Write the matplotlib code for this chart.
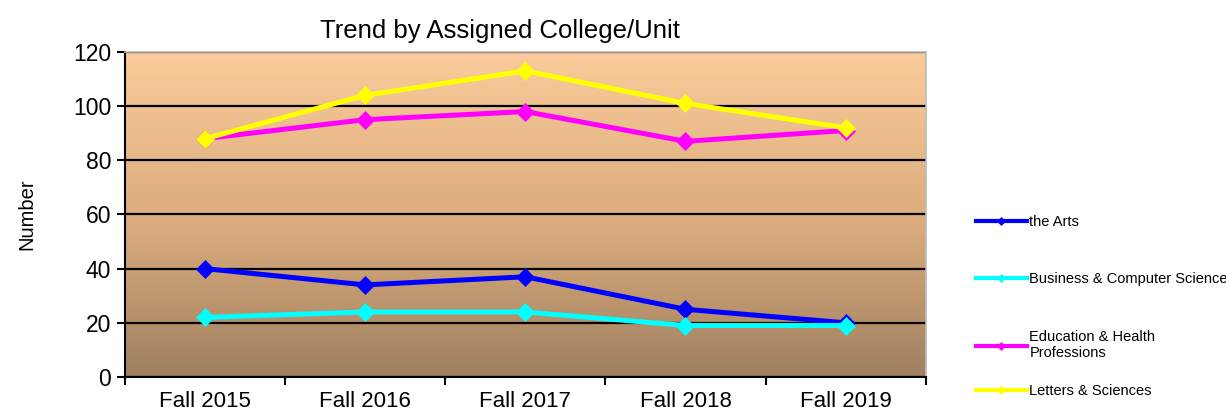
import numpy as np
import matplotlib
matplotlib.use("Agg")
import matplotlib.pyplot as plt
from matplotlib.colors import LinearSegmentedColormap

plt.rcParams['font.family'] = ['Liberation Sans', 'DejaVu Sans']

# data
terms = ["Fall 2015", "Fall 2016", "Fall 2017", "Fall 2018", "Fall 2019"]
arts = [40, 34, 37, 25, 20]
business = [22, 24, 24, 19, 19]
education = [88, 95, 98, 87, 91]
letters = [88, 104, 113, 101, 92]

series_names = ["the Arts", "Business & Computer Science",
                "Education & Health\nProfessions", "Letters & Sciences"]
series_colors = ["#0000FF", "#00FFFF", "#FF00FF", "#FFFF00"]

fig = plt.figure(figsize=(12.26, 4.13), dpi=100)
ax = fig.add_axes([0.102, 0.0872, 0.653, 0.787])

x = np.arange(len(terms))

# gradient background, peach on top to brown at the bottom
cmap = LinearSegmentedColormap.from_list(
    "bg", [(0.0, "#A08060"), (0.45, "#D8AA7C"), (1.0, "#FBCC9A")])
grad = np.linspace(0, 1, 256).reshape(-1, 1)
ax.imshow(grad, cmap=cmap, origin="lower", aspect="auto",
          extent=[-0.5, len(terms) - 0.5, 0, 120], zorder=0)

lines = []
for vals, name, col in zip([arts, business, education, letters], series_names, series_colors):
    ln, = ax.plot(x, vals, color=col, lw=3.6, marker="D", markersize=9.5,
                  markeredgecolor=col, markeredgewidth=0.5, label=name, zorder=3)
    lines.append(ln)

ax.set_xlim(-0.5, len(terms) - 0.5)
ax.set_ylim(0, 120)
ax.set_yticks(np.arange(0, 121, 20))
ax.set_xticks(x)
ax.set_xticklabels(terms)
ax.set_xticks(np.arange(-0.5, len(terms), 1), minor=True)
ax.tick_params(axis="x", which="major", length=0, labelsize=16, pad=10)
ax.tick_params(axis="x", which="minor", length=6, width=1.5, direction="out")
ax.tick_params(axis="y", length=6, width=1.5, direction="out", labelsize=16.5, pad=4)

ax.set_axisbelow(True)
ax.yaxis.grid(True, color="black", lw=1.6)
ax.xaxis.grid(False)

for s in ["left", "bottom"]:
    ax.spines[s].set_color("black")
    ax.spines[s].set_linewidth(1.5)
ax.spines["top"].set_color("#BBBBBB")
ax.spines["right"].set_color("#BBBBBB")
ax.spines["top"].set_linewidth(1.2)
ax.spines["right"].set_linewidth(1.2)

ax.set_ylabel("Number", fontsize=14.5, labelpad=26)
ax.set_title("Trend by Assigned College/Unit", fontsize=18.5, pad=10, x=0.468)

# legend in two parts so the last entry sits where the reference has it
leg_kw = dict(frameon=False, fontsize=10.5, handlelength=3.5, handletextpad=0.2,
              markerscale=0.45)
leg1 = fig.legend(handles=lines[:3], loc="upper left", bbox_to_anchor=(0.785, 0.512),
                  labelspacing=3.0, **leg_kw)
leg2 = fig.legend(handles=lines[3:], loc="center left", bbox_to_anchor=(0.785, 0.053),
                  **leg_kw)
for lg in (leg1, leg2):
    for h in lg.get_lines():
        h.set_linewidth(3)

fig.savefig("out.png", dpi=100)
